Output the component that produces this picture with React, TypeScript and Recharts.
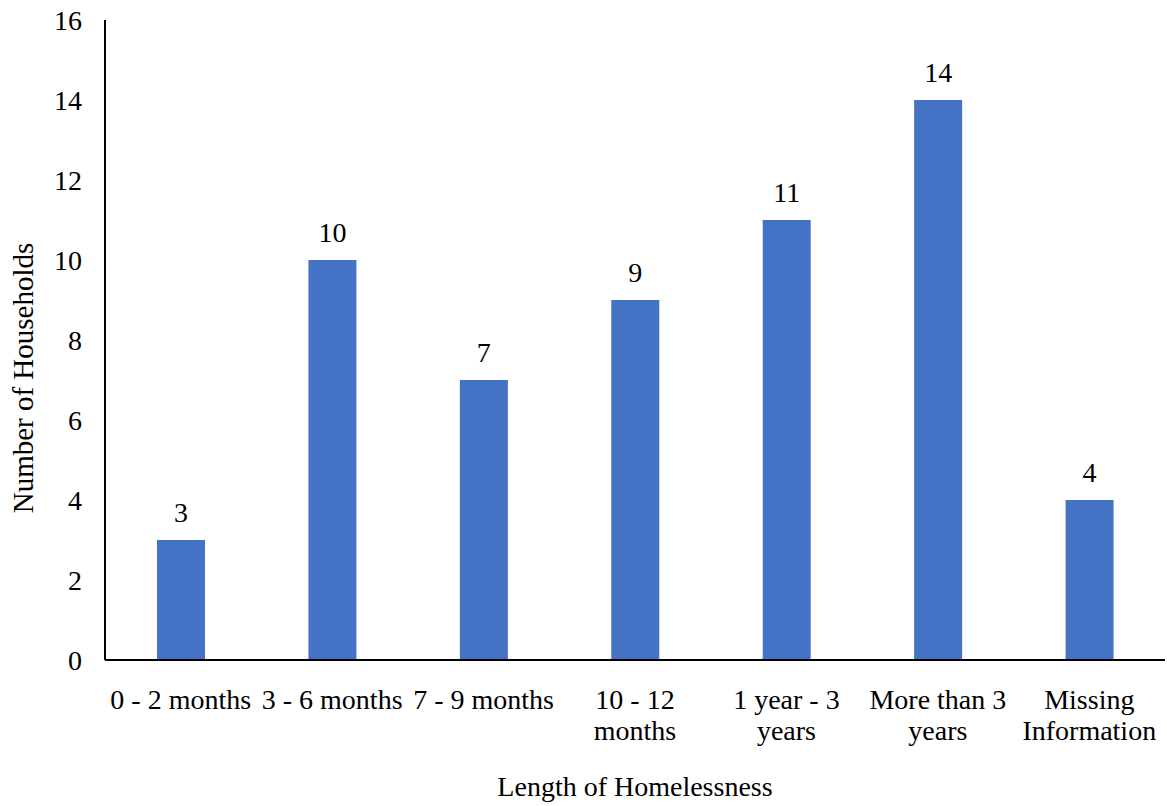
import React from 'react';
import { BarChart, Bar, XAxis, YAxis, LabelList } from 'recharts';

const categories = ['0 - 2 months', '3 - 6 months', '7 - 9 months', '10 - 12 months', '1 year - 3 years', 'More than 3 years', 'Missing Information'];
const households = [3, 10, 7, 9, 11, 14, 4];
const yTicks = [0, 2, 4, 6, 8, 10, 12, 14, 16];

const data = categories.map((c, i) => ({ name: c, value: households[i] }));

const FONT = '"Liberation Serif", "Times New Roman", serif';
const FS = 28;

let ctx: CanvasRenderingContext2D | null = null;
function measure(s: string): number {
  if (!ctx && typeof document !== 'undefined') {
    ctx = document.createElement('canvas').getContext('2d');
  }
  if (!ctx) return s.length * FS * 0.45;
  ctx.font = `${FS}px "Liberation Serif"`;
  return ctx.measureText(s).width;
}

function wrap(label: string, maxW: number): string[] {
  const words = label.split(' ');
  const lines: string[] = [];
  let cur = '';
  for (const w of words) {
    const cand = cur ? cur + ' ' + w : w;
    if (measure(cand) <= maxW || !cur) cur = cand;
    else {
      lines.push(cur);
      cur = w;
    }
  }
  if (cur) lines.push(cur);
  return lines;
}

const XTick = (props: any) => {
  const { x, y, payload } = props;
  const lines = wrap(String(payload.value), 150);
  return (
    <text x={x} y={y} textAnchor="middle" style={{ fontFamily: FONT, fontSize: FS, fill: '#000' }}>
      {lines.map((l, i) => (
        <tspan key={i} x={x} y={y + 41 + i * 31}>{l}</tspan>
      ))}
    </text>
  );
};

const YTick = (props: any) => {
  const { x, y, payload } = props;
  return (
    <text x={x - 1} y={y} textAnchor="end" dominantBaseline="central"
      style={{ fontFamily: FONT, fontSize: FS, fill: '#000' }}>
      {payload.value}
    </text>
  );
};

export default function App() {
  return (
    <div style={{ position: 'absolute', left: 0, top: 0, width: 1167, height: 806, background: '#fff' }}>
      <BarChart width={1167} height={806} data={data} margin={{ top: 20, right: 2, bottom: 0, left: 0 }}>
        <XAxis dataKey="name" height={146} tickLine={false} axisLine={{ stroke: '#000', strokeWidth: 2 }}
          tick={<XTick />} interval={0}
          label={{
            content: (p: any) => {
              const vb = p.viewBox;
              return (
                <text x={vb.x + vb.width / 2} y={796} textAnchor="middle"
                  style={{ fontFamily: FONT, fontSize: FS, fill: '#000' }}>Length of Homelessness</text>
              );
            },
          }} />
        <YAxis width={105} domain={[0, 16]} ticks={yTicks} tickLine={false} tickSize={0} tickMargin={22}
          axisLine={{ stroke: '#000', strokeWidth: 2 }} tick={<YTick />}
          label={{
            content: (p: any) => {
              const vb = p.viewBox;
              const cx = 23;
              const cy = vb.y + vb.height / 2 + 38;
              return (
                <text x={cx} y={cy} textAnchor="middle" dominantBaseline="central" transform={`rotate(-90 ${cx} ${cy})`}
                  style={{ fontFamily: FONT, fontSize: 29, fill: '#000' }}>Number of Households</text>
              );
            },
          }} />
        <Bar dataKey="value" fill="#4472C4" barSize={48} isAnimationActive={false}>
          <LabelList dataKey="value" position="top" offset={18}
            style={{ fontFamily: FONT, fontSize: FS, fill: '#000' }} />
        </Bar>
      </BarChart>
    </div>
  );
}
